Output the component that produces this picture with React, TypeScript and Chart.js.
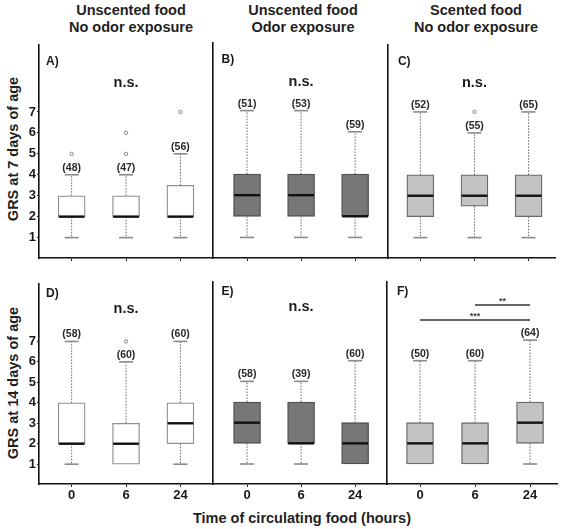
import React, { useEffect, useRef } from "react";
import { Chart, registerables } from "chart.js";

Chart.register(...registerables);

const FONT = "'Liberation Sans', Arial, Helvetica, sans-serif";

// ---------- data ----------
const timeLabels = ["0", "6", "24"];
const yTickValues = [1, 2, 3, 4, 5, 6, 7];

// box stats per time point: [lower whisker, Q1, median, Q3, upper whisker]
const boxA = [[1, 2, 2, 3, 4], [1, 2, 2, 3, 4], [1, 2, 2, 3.5, 5]];
const boxB = [[1, 2, 3, 4, 7], [1, 2, 3, 4, 7], [1, 2, 2, 4, 6]];
const boxC = [[1, 2, 3, 4, 7], [1, 2.5, 3, 4, 6], [1, 2, 3, 4, 7]];
const boxD = [[1, 2, 2, 4, 7], [1, 1, 2, 3, 6], [1, 2, 3, 4, 7]];
const boxE = [[1, 2, 3, 4, 5], [1, 2, 2, 4, 5], [1, 1, 2, 3, 6]];
const boxF = [[1, 1, 2, 3, 6], [1, 1, 2, 3, 6], [1, 2, 3, 4, 7]];

const nA = [48, 47, 56];
const nB = [51, 53, 59];
const nC = [52, 55, 65];
const nD = [58, 60, 60];
const nE = [58, 39, 60];
const nF = [50, 60, 64];

const outliersA = [[5], [5, 6], [7]];
const outliersB = [[], [], []];
const outliersC = [[], [7], []];
const outliersD = [[], [7], []];
const outliersE = [[], [], []];
const outliersF = [[], [], []];

const panelLetters = ["A)", "B)", "C)", "D)", "E)", "F)"];
const panelTests = ["n.s.", "n.s.", "n.s.", "n.s.", "n.s.", ""];

// significance brackets in panel F
const sigFromF = [1, 0];
const sigToF = [2, 2];
const sigYF = [8.7, 7.97];
const sigLabelF = ["**", "***"];

const colTitles = [
  ["Unscented food", "No odor exposure"],
  ["Unscented food", "Odor exposure"],
  ["Scented food", "No odor exposure"],
];
const rowTitles = ["GRS at 7 days of age", "GRS at 14 days of age"];
const xTitle = "Time of circulating food (hours)";

// ---------- styles / layout ----------
const fills = ["#ffffff", "#777777", "#c3c3c3"];
const borders = ["#8f8f8f", "#505050", "#6a6a6a"];

const cols = [
  { left: 0, axisW: 39, right: 213, xmin: -0.6, xmax: 2.564, letterDx: 7, titleX: 131 },
  { left: 209, axisW: 4, right: 387, xmin: -0.63, xmax: 2.59, letterDx: 8.5, titleX: 303 },
  { left: 383, axisW: 4, right: 557, xmin: -0.6, xmax: 2.49, letterDx: 10, titleX: 476 },
];
const rows = [
  { top: 43, bottom: 258, xAxisH: 6, ymin: 0.027, ymax: 10.2, nsY: 8.37, letterY: 9.4, labels: false },
  { top: 282, bottom: 484, xAxisH: 24, ymin: 0.032, ymax: 9.81, nsY: 8.6, letterY: 9.34, labels: true },
];

const PAD_TOP = 3;
const PAD_RIGHT = 3;
const BOX_W = 27;

const boxPlugin = {
  id: "boxExtras",
  afterDatasetsDraw(chart: any, _args: any, opts: any) {
    const { ctx, chartArea } = chart;
    const x = chart.scales.x;
    const y = chart.scales.y;
    const stats: number[][] = opts.stats;
    const ns: number[] = opts.ns;
    ctx.save();
    const line = (x1: number, y1: number, x2: number, y2: number) => {
      ctx.beginPath();
      ctx.moveTo(x1, y1);
      ctx.lineTo(x2, y2);
      ctx.stroke();
    };
    stats.forEach((s, i) => {
      const cx = x.getPixelForValue(i);
      const half = BOX_W / 2;
      const pLow = y.getPixelForValue(s[0]);
      const pQ1 = y.getPixelForValue(s[1]);
      const pMed = y.getPixelForValue(s[2]);
      const pQ3 = y.getPixelForValue(s[3]);
      const pHigh = y.getPixelForValue(s[4]);
      // whiskers
      ctx.strokeStyle = "#666";
      ctx.lineWidth = 1;
      ctx.setLineDash([1.5, 1.5]);
      if (s[4] > s[3]) line(cx, pQ3, cx, pHigh);
      if (s[0] < s[1]) line(cx, pQ1, cx, pLow);
      ctx.setLineDash([]);
      // caps
      ctx.strokeStyle = "#8a8a8a";
      ctx.lineWidth = 1.6;
      if (s[4] > s[3]) line(cx - 7, pHigh, cx + 7, pHigh);
      if (s[0] < s[1]) line(cx - 7, pLow, cx + 7, pLow);
      // median
      ctx.strokeStyle = "#111";
      ctx.lineWidth = 2.4;
      line(cx - half + 0.6, pMed, cx + half - 0.6, pMed);
      // n labels
      ctx.fillStyle = "#2a2a2a";
      ctx.font = `bold 10.5px ${FONT}`;
      ctx.textAlign = "center";
      ctx.textBaseline = "middle";
      ctx.fillText(`(${ns[i]})`, cx, pHigh - 7);
    });
    // panel letter
    ctx.fillStyle = "#1a1a1a";
    ctx.font = `bold 12px ${FONT}`;
    ctx.textAlign = "left";
    ctx.textBaseline = "middle";
    ctx.fillText(opts.letter, chartArea.left + opts.letterDx, y.getPixelForValue(opts.letterY));
    // n.s.
    if (opts.test) {
      ctx.font = `bold 14.5px ${FONT}`;
      ctx.textAlign = "center";
      ctx.fillText(opts.test, x.getPixelForValue(1), y.getPixelForValue(opts.nsY));
    }
    // significance brackets
    (opts.sig || []).forEach((b: any) => {
      const x1 = x.getPixelForValue(b.from);
      const x2 = x.getPixelForValue(b.to);
      const py = y.getPixelForValue(b.y);
      ctx.strokeStyle = "#333";
      ctx.lineWidth = 1.6;
      line(x1, py, x2, py);
      ctx.fillStyle = "#444";
      ctx.font = `bold 9px ${FONT}`;
      ctx.textAlign = "center";
      ctx.textBaseline = "bottom";
      ctx.fillText(b.label, (x1 + x2) / 2, py + 1);
    });
    ctx.restore();
  },
};

const panelStats = [boxA, boxB, boxC, boxD, boxE, boxF];
const panelNs = [nA, nB, nC, nD, nE, nF];
const panelOutliers = [outliersA, outliersB, outliersC, outliersD, outliersE, outliersF];

function Panel({ r, c }: { r: number; c: number }) {
  const ref = useRef<HTMLCanvasElement | null>(null);
  const col = cols[c];
  const row = rows[r];
  const idx = r * 3 + c;
  const width = col.right - col.left + PAD_RIGHT;
  const height = PAD_TOP + (row.bottom - row.top) + row.xAxisH;

  useEffect(() => {
    if (!ref.current) return;
    const stats = panelStats[idx];
    const sig =
      idx === 5
        ? sigFromF.map((f, k) => ({ from: f, to: sigToF[k], y: sigYF[k], label: sigLabelF[k] }))
        : [];
    const chart = new Chart(ref.current, {
      type: "bar",
      data: {
        datasets: [
          {
            type: "bar",
            data: stats.map((s, i) => ({ x: i, y: [s[1], s[3]] })) as any,
            backgroundColor: fills[c],
            borderColor: borders[c],
            borderWidth: 1.3,
            borderSkipped: false,
            barThickness: BOX_W,
          } as any,
          {
            type: "scatter",
            data: panelOutliers[idx].flatMap((arr, i) => arr.map((v) => ({ x: i, y: v }))),
            pointRadius: 1.7,
            pointBorderWidth: 0.9,
            borderColor: "#7a7a7a",
            backgroundColor: "#ffffff",
            pointBackgroundColor: "#ffffff",
            pointBorderColor: "#7a7a7a",
          } as any,
        ],
      },
      options: {
        responsive: false,
        animation: false,
        devicePixelRatio: 1,
        layout: { padding: { top: PAD_TOP, right: PAD_RIGHT, left: 0, bottom: 0 } },
        plugins: {
          legend: { display: false },
          tooltip: { enabled: false },
          boxExtras: {
            stats,
            ns: panelNs[idx],
            letter: panelLetters[idx],
            test: panelTests[idx],
            nsY: row.nsY,
            letterY: row.letterY,
            letterDx: col.letterDx,
            sig,
          },
        } as any,
        scales: {
          x: {
            type: "linear",
            offset: false,
            min: col.xmin,
            max: col.xmax,
            afterBuildTicks: (axis: any) => {
              axis.ticks = timeLabels.map((_, i) => ({ value: i }));
            },
            afterFit: (axis: any) => {
              axis.height = row.xAxisH;
              axis.paddingLeft = 0;
              axis.paddingRight = 0;
              axis.paddingTop = 0;
              axis.paddingBottom = 0;
            },
            ticks: {
              display: row.labels,
              callback: (v: any) => timeLabels[v as number] ?? "",
              font: { family: FONT, size: 13, weight: "bold" },
              color: "#1a1a1a",
              padding: 1,
              maxRotation: 0,
            },
            grid: {
              display: true,
              offset: false,
              drawOnChartArea: false,
              drawTicks: true,
              tickLength: 3,
              color: "#222",
              lineWidth: 1,
            },
            border: { display: true, color: "#111", width: 1.5 },
          },
          y: {
            type: "linear",
            min: row.ymin,
            max: row.ymax,
            afterBuildTicks: (axis: any) => {
              axis.ticks = yTickValues.map((v) => ({ value: v }));
            },
            afterFit: (axis: any) => {
              axis.width = col.axisW;
              axis.paddingLeft = 0;
              axis.paddingRight = 0;
              axis.paddingTop = 0;
              axis.paddingBottom = 0;
            },
            ticks: {
              display: c === 0,
              font: { family: FONT, size: 13, weight: "bold" },
              color: "#1a1a1a",
              padding: 1,
            },
            grid: {
              display: c === 0,
              drawOnChartArea: false,
              drawTicks: true,
              tickLength: 2,
              color: "#222",
              lineWidth: 1,
            },
            border: { display: true, color: "#111", width: 1.6 },
          },
        },
      },
      plugins: [boxPlugin as any],
    });
    return () => chart.destroy();
  }, []);

  return (
    <canvas
      ref={ref}
      width={width}
      height={height}
      style={{
        position: "absolute",
        left: col.left,
        top: row.top - PAD_TOP,
        width,
        height,
      }}
    />
  );
}

export default function App() {
  const textStyle: React.CSSProperties = {
    position: "absolute",
    fontFamily: FONT,
    fontWeight: "bold",
    fontSize: "14.5px",
    color: "#1f1f1f",
    textAlign: "center",
    whiteSpace: "nowrap",
  };
  const rowTitleY = [148.5, 382.5];
  return (
    <div
      style={{
        position: "absolute",
        left: 0,
        top: 0,
        width: 562,
        height: 529,
        background: "#ffffff",
        overflow: "hidden",
      }}
    >
      {colTitles.map((t, c) => (
        <div
          key={"ct" + c}
          style={{
            ...textStyle,
            left: cols[c].titleX - 100,
            top: 2,
            width: 200,
            lineHeight: "16.5px",
          }}
        >
          {t[0]}
          <br />
          {t[1]}
        </div>
      ))}
      {rowTitles.map((t, r) => (
        <div
          key={"rt" + r}
          style={{
            ...textStyle,
            left: 13 - 100,
            top: rowTitleY[r] - 9,
            width: 200,
            height: 18,
            lineHeight: "18px",
            transform: "rotate(-90deg)",
            transformOrigin: "50% 50%",
          }}
        >
          {t}
        </div>
      ))}
      <div
        style={{
          ...textStyle,
          left: 302 - 200,
          top: 517.7 - 9,
          width: 400,
          height: 18,
          lineHeight: "18px",
        }}
      >
        {xTitle}
      </div>
      {[0, 1].map((r) => [0, 1, 2].map((c) => <Panel key={`${r}-${c}`} r={r} c={c} />))}
    </div>
  );
}
